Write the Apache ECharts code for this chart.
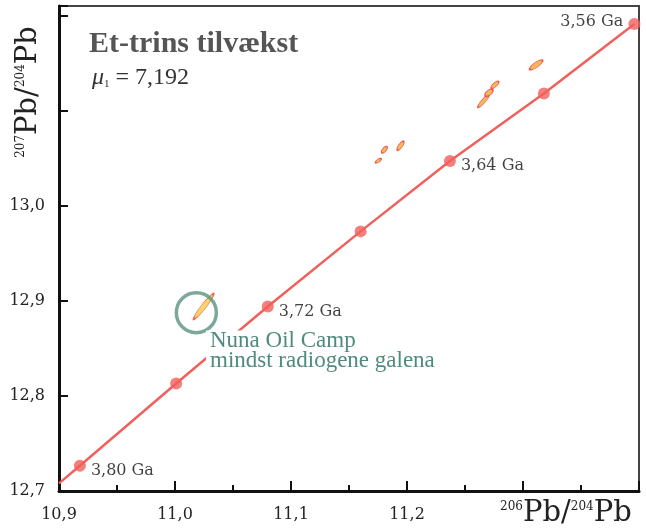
<!DOCTYPE html>
<html>
<head>
<meta charset="utf-8">
<script src="https://cdn.jsdelivr.net/npm/echarts@6/dist/echarts.min.js"></script>
<style>html,body{margin:0;padding:0;background:#fff}#c{width:646px;height:528px}</style>
</head>
<body>
<div id="c"></div>
<script>
// growth curve (single-stage) ages and points
const ageLabels = ['3,80 Ga', '', '3,72 Ga', '', '3,64 Ga', '', '3,56 Ga'];
const ageX = [10.918, 11.001, 11.080, 11.160, 11.237, 11.318, 11.396];
const ageY = [12.7265, 12.813, 12.894, 12.973, 13.047, 13.118, 13.191];
const curveStartX = 10.9;
const curveStartY = 12.708;
// galena analyses (error ellipse centres)
const galenaX = [11.0247, 11.1753, 11.1805, 11.1944, 11.2658, 11.2706, 11.2758, 11.3113];
const galenaY = [12.894, 13.0473, 13.0589, 13.0631, 13.1098, 13.1187, 13.1271, 13.1481];
// Nuna Oil Camp marker (circle centre)
const nunaX = [11.0184];
const nunaY = [12.8875];
// axis ticks
const xTickLabels = ['10,9', '11,0', '11,1', '11,2'];
const yTickLabels = ['12,7', '12,8', '12,9', '13,0'];
const title = 'Et-trins tilvækst';
const muText = '7,192';

// styling of ellipses (pixel sizes, rotation) - not data
const ellStyle = [[32,5,52],[7,3,35],[8,4,50],[11,4,55],[16,4,48],[10,5,40],[10,4,42],[16,5,35]];

const chart = echarts.init(document.getElementById('c'), null, {renderer: 'canvas'});
const red = '#f0605c';
const teal = '#4f8a7c';
const tickFont = 'DejaVu Serif';

const curveData = [[curveStartX, curveStartY]].concat(ageX.map((x, i) => [x, ageY[i]]));
const ageData = ageX.map((x, i) => ({
  value: [x, ageY[i]],
  label: {
    show: ageLabels[i] !== '',
    formatter: ageLabels[i],
    position: i === ageX.length - 1 ? 'left' : 'right',
    offset: i === ageX.length - 1 ? [0, -2] : [0, 5],
    distance: 5
  }
}));
const ellData = galenaX.map((x, i) => ({
  value: [x, galenaY[i]],
  symbolSize: [ellStyle[i][0], ellStyle[i][1]],
  symbolRotate: ellStyle[i][2],
  itemStyle: i === 0 ? {color: '#f7c744'} : {}
}));

function fmtX(v) {
  const s = v.toFixed(1).replace('.', ',');
  return xTickLabels.indexOf(s) >= 0 ? s : '';
}
function fmtY(v) {
  const s = v.toFixed(1).replace('.', ',');
  return yTickLabels.indexOf(s) >= 0 ? s : '';
}

chart.setOption({
  animation: false,
  backgroundColor: '#fff',
  grid: {left: 59, right: 7, top: 6, bottom: 37, show: true, borderColor: '#444', borderWidth: 2, backgroundColor: 'transparent'},
  xAxis: {
    type: 'value', min: 10.9, max: 11.4, interval: 0.1,
    axisLine: {show: true, onZero: false, lineStyle: {color: '#111', width: 3}},
    axisTick: {show: true, inside: true, length: 10, lineStyle: {color: '#111', width: 2}},
    minorTick: {show: true, splitNumber: 2, length: 6, lineStyle: {color: '#111', width: 2}},
    splitLine: {show: false},
    axisLabel: {formatter: fmtX, margin: 16, fontFamily: tickFont, fontSize: 16, color: '#222'}
  },
  yAxis: {
    type: 'value', min: 12.7, max: 13.21, interval: 0.1,
    axisLine: {show: true, onZero: false, lineStyle: {color: '#111', width: 3}},
    axisTick: {show: true, inside: true, length: 9, lineStyle: {color: '#111', width: 2}},
    splitLine: {show: false},
    axisLabel: {formatter: fmtY, margin: 14, fontFamily: tickFont, fontSize: 16, color: '#222', showMaxLabel: true}
  },
  series: [
    {
      type: 'line', data: curveData, showSymbol: false, symbol: 'none',
      lineStyle: {color: red, width: 2.5}, z: 2, silent: true
    },
    {
      type: 'scatter', data: ageData, symbol: 'circle', symbolSize: 12,
      itemStyle: {color: red}, z: 3,
      label: {color: '#111', fontFamily: tickFont, fontSize: 16}
    },
    {
      type: 'scatter', data: ellData, symbol: 'circle',
      itemStyle: {color: '#f5a53a', borderColor: '#e5443a', borderWidth: 1.2}, z: 4
    },
    {
      type: 'scatter', data: nunaX.map((x, i) => [x, nunaY[i]]), symbol: 'circle', symbolSize: 40,
      itemStyle: {color: 'transparent', borderColor: '#5b9283', borderWidth: 3.5}, z: 5
    }
  ],
  graphic: [
    {type: 'text', left: 89, top: 29, z: 100,
     style: {text: title, fontFamily: 'Liberation Serif', fontWeight: 'bold', fontSize: 30, fill: '#555'}},
    {type: 'text', left: 92, top: 66, z: 100,
     style: {text: '{i|μ}{s|1}{n| = ' + muText + '}', rich: {
       i: {fontFamily: 'Liberation Serif', fontStyle: 'italic', fontSize: 24, fill: '#333'},
       s: {fontFamily: 'Liberation Serif', fontSize: 11, fill: '#333', verticalAlign: 'bottom', padding: [10, 0, 0, 0]},
       n: {fontFamily: 'Liberation Serif', fontSize: 24, fill: '#333'}
     }}},
    {type: 'text', left: 206, top: 329, z: 100,
     style: {text: 'Nuna Oil Camp\nmindst radiogene galena', fontFamily: 'Liberation Serif', fontSize: 23, lineHeight: 20,
       fill: teal, backgroundColor: '#fff', padding: [0, 2, 0, 4]}},
    {type: 'text', left: 500, top: 499, z: 100,
     style: {text: '{s|206}{b|Pb/}{s|204}{b|Pb}', rich: {
       s: {fontFamily: 'DejaVu Serif', fontSize: 12, fill: '#222', padding: [0, 0, 14, 0]},
       b: {fontFamily: 'DejaVu Serif', fontSize: 29, fill: '#222'}
     }}},
    {type: 'text', x: 28, y: 92, rotation: Math.PI / 2, z: 100,
     style: {text: '{s|207}{b|Pb/}{s|204}{b|Pb}', align: 'center', verticalAlign: 'middle', rich: {
       s: {fontFamily: 'DejaVu Serif', fontSize: 12, fill: '#222', padding: [0, 0, 14, 0]},
       b: {fontFamily: 'DejaVu Serif', fontSize: 29, fill: '#222'}
     }}}
  ]
});
</script>
</body>
</html>
